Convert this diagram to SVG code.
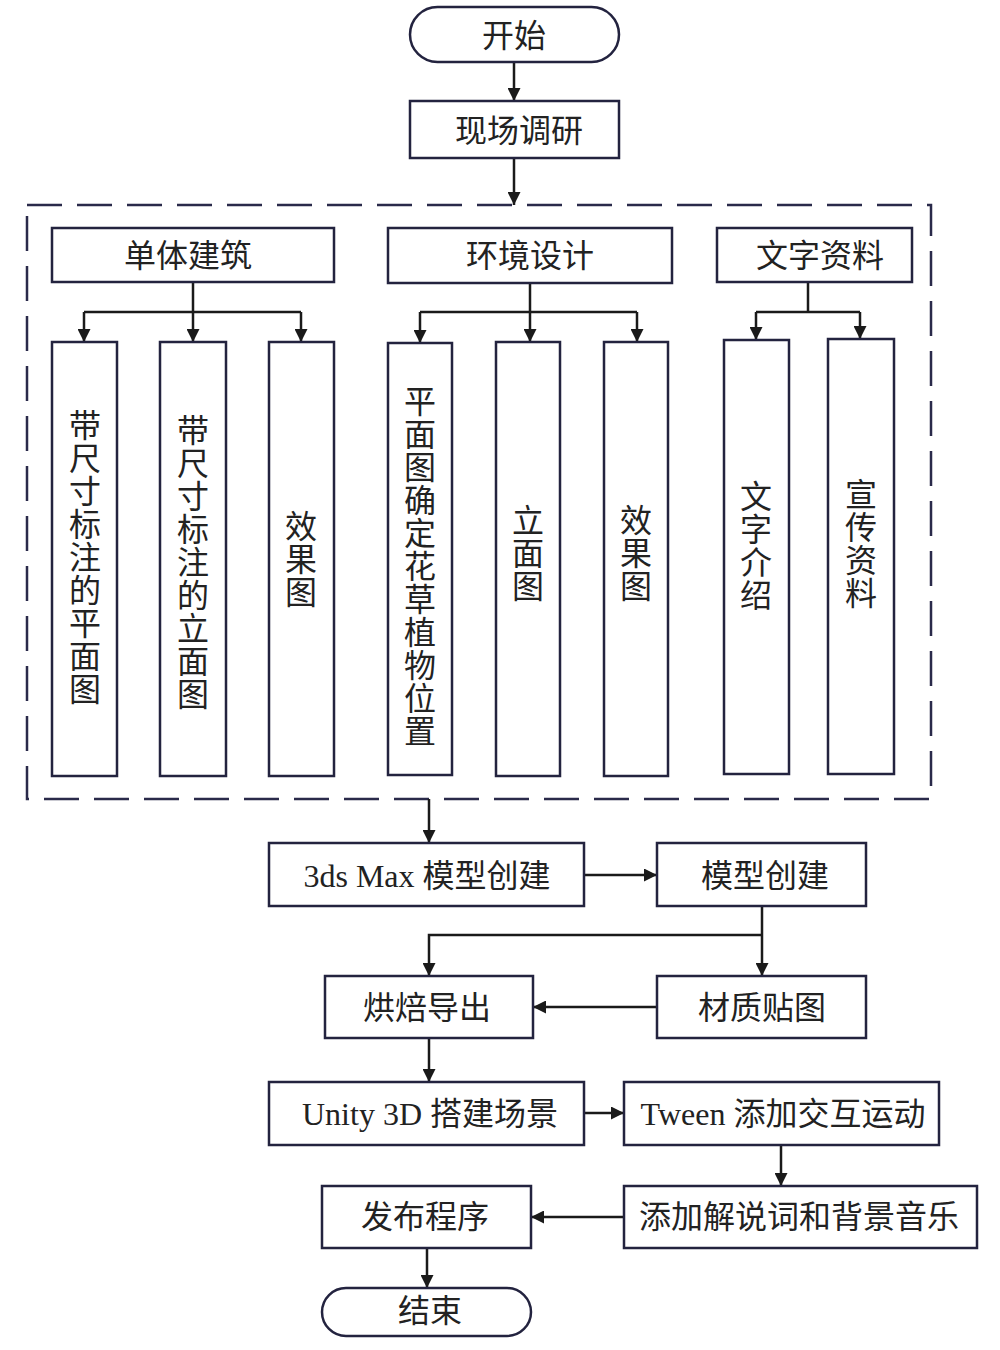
<svg xmlns="http://www.w3.org/2000/svg" width="1000" height="1350" viewBox="0 0 1000 1350">
<style>
.box{fill:#fff;stroke:#23233f;stroke-width:2.5}
.t{font-family:"Liberation Serif","Noto Sans CJK SC",serif;font-size:32px;fill:#222;text-anchor:middle}
.v{font-family:"Liberation Serif","Noto Sans CJK SC",serif;font-size:32px;fill:#222;text-anchor:middle;writing-mode:vertical-rl;letter-spacing:1px}
.c{fill:none;stroke:#1a1a1a;stroke-width:2.5}
.dash{fill:none;stroke:#2a2a4a;stroke-width:2.5;stroke-dasharray:35 15}
</style>
<defs>
<marker id="ah" viewBox="0 0 13 13" refX="13" refY="6.5" markerWidth="13" markerHeight="13" markerUnits="userSpaceOnUse" orient="auto">
<path d="M0,0 L13,6.5 L0,13 z" fill="#1a1a1a"/>
</marker>
</defs>
<rect width="1000" height="1350" fill="#fff"/>
<rect class="dash" x="27" y="205" width="904" height="594"/>
<g id="connectors">
<path class="c" d="M514,62 V101" marker-end="url(#ah)"/>
<path class="c" d="M514,158 V205" marker-end="url(#ah)"/>
<path class="c" d="M193,282 V312"/>
<path class="c" d="M84,312 H301"/>
<path class="c" d="M84,312 V342" marker-end="url(#ah)"/>
<path class="c" d="M193,312 V342" marker-end="url(#ah)"/>
<path class="c" d="M301,312 V342" marker-end="url(#ah)"/>
<path class="c" d="M530,283 V312"/>
<path class="c" d="M420,312 H637"/>
<path class="c" d="M420,312 V343" marker-end="url(#ah)"/>
<path class="c" d="M530,312 V342" marker-end="url(#ah)"/>
<path class="c" d="M637,312 V342" marker-end="url(#ah)"/>
<path class="c" d="M808,282 V312"/>
<path class="c" d="M756,312 H860"/>
<path class="c" d="M756,312 V340" marker-end="url(#ah)"/>
<path class="c" d="M860,312 V339" marker-end="url(#ah)"/>
<path class="c" d="M429,799 V843" marker-end="url(#ah)"/>
<path class="c" d="M584,875 H657" marker-end="url(#ah)"/>
<path class="c" d="M762,906 V976" marker-end="url(#ah)"/>
<path class="c" d="M762,935 H429 V976" marker-end="url(#ah)"/>
<path class="c" d="M657,1007 H533" marker-end="url(#ah)"/>
<path class="c" d="M429,1038 V1082" marker-end="url(#ah)"/>
<path class="c" d="M584,1113 H624" marker-end="url(#ah)"/>
<path class="c" d="M781,1145 V1186" marker-end="url(#ah)"/>
<path class="c" d="M624,1217 H531" marker-end="url(#ah)"/>
<path class="c" d="M427,1248 V1288" marker-end="url(#ah)"/>
</g>
<g id="start"><rect class="box" x="410" y="7" width="209" height="55" rx="27.5"/><text class="t" x="514" y="47">开始</text></g>
<g id="survey"><rect class="box" x="410" y="101" width="209" height="57"/><text class="t" x="519" y="142">现场调研</text></g>
<g id="building"><rect class="box" x="52" y="228" width="282" height="54"/><text class="t" x="188" y="267">单体建筑</text></g>
<g id="environment"><rect class="box" x="388" y="228" width="284" height="55"/><text class="t" x="530" y="267">环境设计</text></g>
<g id="textdata"><rect class="box" x="717" y="228" width="195" height="54"/><text class="t" x="820" y="267">文字资料</text></g>
<g id="b-plan"><rect class="box" x="52" y="342" width="65" height="434"/><text class="v" x="82" y="557">带尺寸标注的平面图</text></g>
<g id="b-elev"><rect class="box" x="160" y="342" width="66" height="434"/><text class="v" x="190" y="562">带尺寸标注的立面图</text></g>
<g id="b-render"><rect class="box" x="269" y="342" width="65" height="434"/><text class="v" x="298" y="559">效果图</text></g>
<g id="e-plan"><rect class="box" x="388" y="343" width="64" height="432"/><text class="v" x="417" y="566">平面图确定花草植物位置</text></g>
<g id="e-elev"><rect class="box" x="496" y="342" width="64" height="434"/><text class="v" x="525" y="553">立面图</text></g>
<g id="e-render"><rect class="box" x="604" y="342" width="64" height="434"/><text class="v" x="633" y="553">效果图</text></g>
<g id="t-intro"><rect class="box" x="724" y="340" width="65" height="434"/><text class="v" x="753" y="546">文字介绍</text></g>
<g id="t-promo"><rect class="box" x="828" y="339" width="66" height="435"/><text class="v" x="858" y="544">宣传资料</text></g>
<g id="max"><rect class="box" x="269" y="843" width="315" height="63"/><text class="t" x="427" y="887">3ds Max 模型创建</text></g>
<g id="model"><rect class="box" x="657" y="843" width="209" height="63"/><text class="t" x="765" y="887">模型创建</text></g>
<g id="bake"><rect class="box" x="325" y="976" width="208" height="62"/><text class="t" x="427" y="1019">烘焙导出</text></g>
<g id="material"><rect class="box" x="657" y="976" width="209" height="62"/><text class="t" x="762" y="1019">材质贴图</text></g>
<g id="unity"><rect class="box" x="269" y="1082" width="315" height="63"/><text class="t" x="430" y="1125">Unity 3D 搭建场景</text></g>
<g id="tween"><rect class="box" x="624" y="1082" width="315" height="63"/><text class="t" x="783" y="1125">Tween 添加交互运动</text></g>
<g id="audio"><rect class="box" x="624" y="1186" width="353" height="62"/><text class="t" x="799" y="1228">添加解说词和背景音乐</text></g>
<g id="publish"><rect class="box" x="322" y="1186" width="209" height="62"/><text class="t" x="425" y="1228">发布程序</text></g>
<g id="end"><rect class="box" x="322" y="1288" width="209" height="48" rx="24"/><text class="t" x="430" y="1322">结束</text></g>
</svg>
